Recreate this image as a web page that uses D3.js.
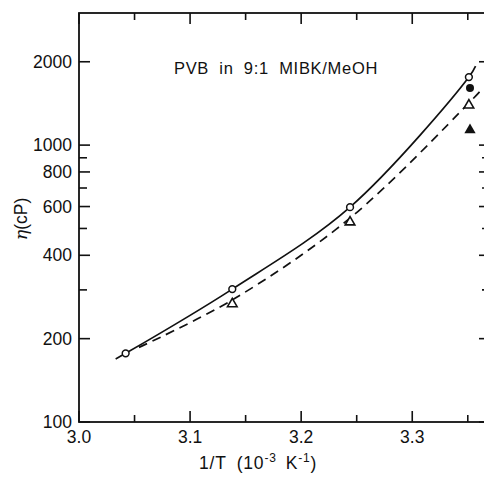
<!DOCTYPE html>
<html>
<head>
<meta charset="utf-8">
<script src="https://cdn.jsdelivr.net/npm/d3@7"></script>
<style>
  body { margin: 0; background: #fff; }
  text { font-family: "Liberation Sans", Arial, sans-serif; fill: #111; }
</style>
</head>
<body>
<div id="chart"></div>
<script>
// values: 1/T (10^-3 K^-1) vs viscosity (cP)
const solidCurve = [[3.033, 169], [3.042, 177], [3.138, 302],
  [3.244, 597], [3.351, 1761], [3.357, 1930]];
const dashedCurve = [[3.054, 186], [3.138, 276],
  [3.244, 545], [3.351, 1419], [3.362, 1580]];
const openCircles = [[3.042, 177], [3.138, 302], [3.244, 597], [3.351, 1761]];
const openTriangles = [[3.138, 267], [3.244, 527], [3.351, 1394]];
const filledCircles = [[3.352, 1607]];
const filledTriangles = [[3.352, 1133]];
const xMajor = [3.0, 3.1, 3.2, 3.3];
const xMinor = [3.05, 3.15, 3.25, 3.35];
const yLabeled = [100, 200, 400, 600, 800, 1000, 2000];
const yMinor = [300, 500, 700, 900];

const W = 484, H = 480;
const x = d3.scaleLinear().domain([3.0, 3.37]).range([79, 490]);
const y = d3.scaleLog().domain([100, 3000]).range([422, 13]);

const svg = d3.select("#chart").append("svg")
  .attr("width", W)
  .attr("height", H);

// frame
svg.append("rect")
  .attr("x", x(3.0))
  .attr("y", y(3000))
  .attr("width", x(3.37) - x(3.0))
  .attr("height", y(100) - y(3000))
  .attr("fill", "none")
  .attr("stroke", "#111")
  .attr("stroke-width", 1.8);

// x ticks on bottom and top, pointing inward
function xTicks(vals, len) {
  vals.forEach(function (v) {
    svg.append("line").attr("x1", x(v)).attr("x2", x(v))
      .attr("y1", y(100)).attr("y2", y(100) - len)
      .attr("stroke", "#111").attr("stroke-width", 1.6);
    svg.append("line").attr("x1", x(v)).attr("x2", x(v))
      .attr("y1", y(3000)).attr("y2", y(3000) + len)
      .attr("stroke", "#111").attr("stroke-width", 1.6);
  });
}
xTicks(xMajor, 11);
xTicks(xMinor, 7);

function yTicks(vals, len) {
  vals.forEach(function (v) {
    svg.append("line").attr("x1", x(3.0)).attr("x2", x(3.0) + len)
      .attr("y1", y(v)).attr("y2", y(v))
      .attr("stroke", "#111").attr("stroke-width", 1.6);
    svg.append("line").attr("x1", x(3.37)).attr("x2", x(3.37) - len)
      .attr("y1", y(v)).attr("y2", y(v))
      .attr("stroke", "#111").attr("stroke-width", 1.6);
  });
}
yTicks(yLabeled, 11);
yTicks(yMinor, 8);

// tick labels
svg.selectAll(".xl").data(xMajor).enter().append("text")
  .attr("x", function (d) { return x(d); })
  .attr("y", 443)
  .attr("text-anchor", "middle")
  .style("font-size", "17.5px")
  .text(function (d) { return d.toFixed(1); });

svg.selectAll(".yl").data(yLabeled).enter().append("text")
  .attr("x", 72)
  .attr("y", function (d) { return y(d) + 6; })
  .attr("text-anchor", "end")
  .style("font-size", "17.5px")
  .text(function (d) { return d; });

// axis titles
const xt = svg.append("text")
  .attr("x", 199)
  .attr("y", 469)
  .style("font-size", "17.5px")
  .style("letter-spacing", "0.8px");
xt.append("tspan").text("1/T");
xt.append("tspan").attr("dx", 10).text("(10");
xt.append("tspan").attr("dy", -7).style("font-size", "12px").text("-3");
xt.append("tspan").attr("dx", 9).attr("dy", 7).text("K");
xt.append("tspan").attr("dy", -7).style("font-size", "12px").text("-1");
xt.append("tspan").attr("dy", 7).text(")");

const yt = svg.append("text")
  .attr("transform", "translate(27,219) rotate(-90)")
  .attr("text-anchor", "middle")
  .style("font-size", "17.5px");
yt.append("tspan").style("font-style", "italic").style("font-family", "DejaVu Serif, serif").text("η");
yt.append("tspan").text("(cP)");

svg.append("text")
  .attr("x", 276)
  .attr("y", 74)
  .attr("text-anchor", "middle")
  .style("font-size", "16.5px")
  .style("letter-spacing", "0.7px")
  .style("word-spacing", "5px")
  .text("PVB in 9:1 MIBK/MeOH");

// curves
const line = d3.line()
  .x(function (d) { return x(d[0]); })
  .y(function (d) { return y(d[1]); })
  .curve(d3.curveCatmullRom.alpha(0.5));

svg.append("path")
  .attr("d", line(solidCurve))
  .attr("fill", "none")
  .attr("stroke", "#111")
  .attr("stroke-width", 1.7);

svg.append("path")
  .attr("d", line(dashedCurve))
  .attr("fill", "none")
  .attr("stroke", "#111")
  .attr("stroke-width", 1.7)
  .attr("stroke-dasharray", "9,6");

// markers
svg.selectAll(".oc").data(openCircles).enter().append("circle")
  .attr("cx", function (d) { return x(d[0]); })
  .attr("cy", function (d) { return y(d[1]); })
  .attr("r", 3.4)
  .attr("fill", "#fff")
  .attr("stroke", "#111")
  .attr("stroke-width", 1.5);

svg.selectAll(".fc").data(filledCircles).enter().append("circle")
  .attr("cx", function (d) { return x(d[0]); })
  .attr("cy", function (d) { return y(d[1]); })
  .attr("r", 4)
  .attr("fill", "#111");

const tri = d3.symbol().type(d3.symbolTriangle).size(40);

svg.selectAll(".ot").data(openTriangles).enter().append("path")
  .attr("d", tri)
  .attr("transform", function (d) { return "translate(" + x(d[0]) + "," + y(d[1]) + ")"; })
  .attr("fill", "#fff")
  .attr("stroke", "#111")
  .attr("stroke-width", 1.6);

svg.selectAll(".ft").data(filledTriangles).enter().append("path")
  .attr("d", d3.symbol().type(d3.symbolTriangle).size(55))
  .attr("transform", function (d) { return "translate(" + x(d[0]) + "," + y(d[1]) + ")"; })
  .attr("fill", "#111");
</script>
</body>
</html>
